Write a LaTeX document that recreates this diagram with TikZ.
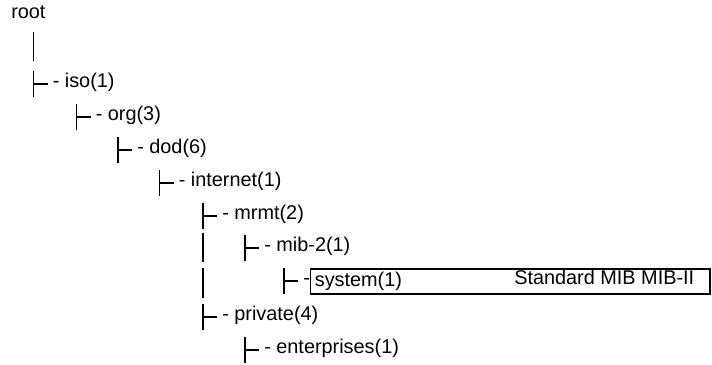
\documentclass[tikz,border=0pt]{standalone}
\usepackage{fontspec}
\setmainfont{Liberation Sans}
\usepackage{tikz}
\usetikzlibrary{positioning}

\tikzstyle{entry} = [anchor=mid west, 
inner sep=0pt, 
xshift=14.25pt]
\tikzstyle{stem} = [line width=1.15pt, draw=black]
\tikzstyle{mibbox} = [rectangle, 
draw=black, 
line width=1pt, 
minimum width=299.5pt, 
minimum height=18.75pt, 
text width=293.5pt, 
align=left, 
inner xsep=3pt, 
inner ysep=0pt]

\begin{document}
\begin{tikzpicture}[x=0.75pt, y=-0.75pt, font=\fontsize{14.9}{17.5}\selectfont]

\useasboundingbox (0,0) rectangle (712,364);

% tee points of the tree, one per row
\coordinate (tiso) at (33.5,84);
\coordinate (torg) at (76.5,117);
\coordinate (tdod) at (118,150);
\coordinate (tinternet) at (159.5,183);
\coordinate (tmrmt) at (203,216);
\coordinate (tmib) at (245,248);
\coordinate (tsystem) at (284,281);
\coordinate (tprivate) at (203,317);
\coordinate (tenterprises) at (245,350);

\node (root) [anchor=mid west, inner sep=0pt] at (11,15) {root};
\node (iso) [entry] at (tiso) {- iso(1)};
\node (org) [entry] at (torg) {- org(3)};
\node (dod) [entry] at (tdod) {- dod(6)};
\node (internet) [entry] at (tinternet) {- internet(1)};
\node (mrmt) [entry] at (tmrmt) {- mrmt(2)};
\node (mib) [entry] at (tmib) {- mib-2(1)};
\node (sysdash) [entry] at (tsystem) {-};
\node (system) [mibbox, right=0pt of sysdash] {system(1)};
\node (mibname) [anchor=mid west, inner sep=0pt] at (514,281) {Standard MIB MIB-II};
\node (private) [entry] at (tprivate) {- private(4)};
\node (enterprises) [entry] at (tenterprises) {- enterprises(1)};

% the tee glyphs
\foreach \t in {tiso, torg, tdod, tinternet, tmrmt, tmib, tsystem, tprivate, tenterprises} {
  \draw [stem] (\t) ++(0,-13) -- ++(0,26);
  \draw [stem] (\t) -- ++(14,0);
}

% plain bars
\draw [stem] (tiso) ++(0,-52) -- ++(0,29);
\draw [stem] (tmrmt) ++(0,17) -- ++(0,29);
\draw [stem] (tmrmt) ++(0,52) -- ++(0,30);

\end{tikzpicture}
\end{document}
